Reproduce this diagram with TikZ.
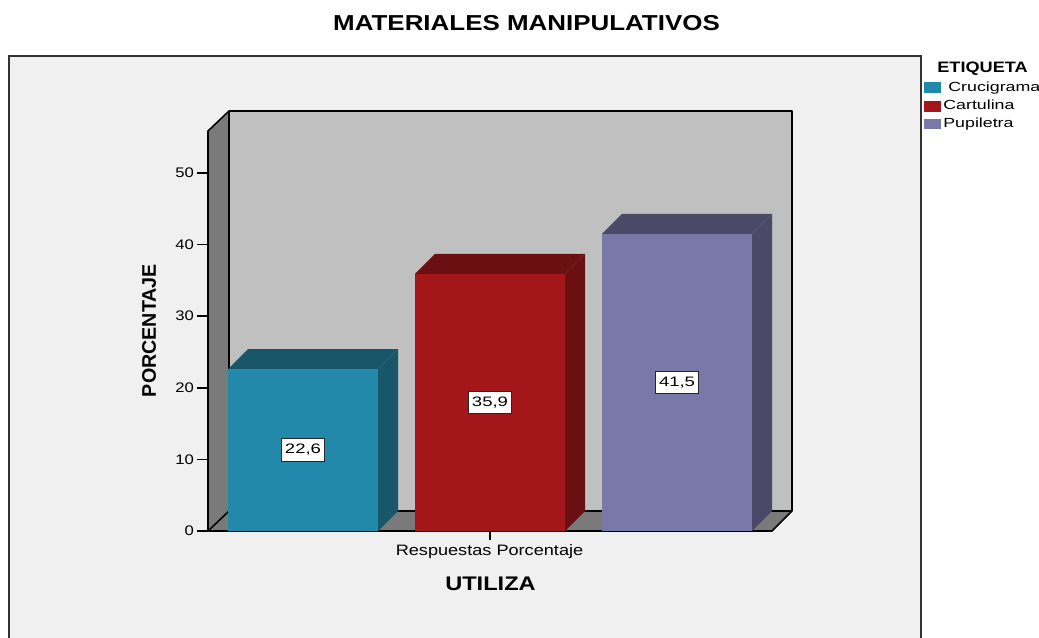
\documentclass[tikz,border=0pt]{standalone}
\usepackage{fontspec}
\setmainfont{Liberation Sans}
\newfontfamily\spssfont[FakeStretch=1.2]{Liberation Sans}
\newfontfamily\spsswide[FakeStretch=1.35]{Liberation Sans}
\definecolor{bgchart}{HTML}{F0F0F0}
\definecolor{wallback}{HTML}{C0C0C0}
\definecolor{wallside}{HTML}{7A7A7A}
\definecolor{crufront}{HTML}{2389AB}
\definecolor{cruside}{HTML}{185769}
\definecolor{carfront}{HTML}{A3161A}
\definecolor{carside}{HTML}{6A0F12}
\definecolor{pupfront}{HTML}{7879A8}
\definecolor{pupside}{HTML}{4A4A68}

\begin{document}
\begin{tikzpicture}[x=0.02cm,y=-0.02cm]
\tikzset{
	frameline/.style={draw=black!80, line width=0.8pt},
	axisline/.style={draw=black, line width=0.9pt, line join=round},
	ticklbl/.style={anchor=east, font=\spssfont\fontsize{7.9}{9}\selectfont, inner sep=1pt},
	valbox/.style={draw=black!85, fill=white, line width=0.5pt, inner xsep=2.2pt, inner ysep=3.2pt,
		font=\spsswide\fontsize{7.8}{9}\selectfont},
	bigtitle/.style={anchor=base, inner sep=0pt},
	legtext/.style={anchor=base west, font=\spsswide\fontsize{7.5}{9}\selectfont, inner sep=0pt},
	legbox/.style={minimum width=9.6pt, minimum height=6pt, inner sep=0pt}
}
\useasboundingbox (0,0) rectangle (1039,638);
\fill[white] (0,0) rectangle (1039,638);
% chart frame
\fill[bgchart] (9,56) rectangle (921,638);
\draw[frameline] (9,638) -- (9,56) -- (921,56) -- (921,638);
\node[bigtitle, font=\spssfont\bfseries\fontsize{12.3}{14}\selectfont] (TITLE) at (526.5,31) {MATERIALES MANIPULATIVOS};

% walls of the 3d box
\fill[wallback] (229,111) rectangle (792,511);
\fill[wallside] (208,531) -- (208,131) -- (229,111) -- (229,511) -- cycle;
\fill[wallside] (208,531) -- (229,511) -- (792,511) -- (772,531) -- cycle;
\draw[axisline] (208,531) -- (208,131) -- (229,111) -- (792,111) -- (792,511) -- (772,531) -- cycle;
\draw[axisline] (229,111) -- (229,511) -- (792,511);
\draw[axisline] (208,531) -- (229,511);

% ticks
\foreach \v in {0,10,...,50}{
	\draw[axisline] (197,531-7.16*\v) -- (208,531-7.16*\v);
	\node[ticklbl] (T\v) at (196,531-7.16*\v) {\v};
}
\draw[axisline] (490,531) -- (490,540);

% bars
\foreach \x/\v/\fc/\sc/\lbl in {228/22.6/crufront/cruside/{22,6}, 415/35.9/carfront/carside/{35,9}, 602/41.5/pupfront/pupside/{41,5}}{
	\fill[\sc] (\x,531-7.16*\v) -- (\x+20,511-7.16*\v) -- (\x+170,511-7.16*\v) -- (\x+150,531-7.16*\v) -- cycle;
	\fill[\sc] (\x+150,531) -- (\x+150,531-7.16*\v) -- (\x+170,511-7.16*\v) -- (\x+170,511) -- cycle;
	\fill[\fc] (\x,531) rectangle (\x+150,531-7.16*\v);
	\node[valbox] at (\x+75,531-3.58*\v) {\lbl};
}

% axis titles
\node[bigtitle, font=\spssfont\fontsize{8.6}{10}\selectfont] (XLBL) at (489.5,556) {Respuestas Porcentaje};
\node[bigtitle, font=\spssfont\bfseries\fontsize{11.2}{13}\selectfont] (XTITLE) at (490.5,591) {UTILIZA};
\node[font=\bfseries\fontsize{11.2}{13}\selectfont, inner sep=0pt, rotate=90] (YTITLE) at (149,330.5) {PORCENTAJE};

% legend
\node[font=\spssfont\bfseries\fontsize{8.6}{10}\selectfont, anchor=base west, inner sep=0pt] (LEGT) at (937,73) {ETIQUETA};
\node[legbox, fill=crufront] (L1) at (932.5,87.5) {};
\node[legtext] (L1T) at (948,92) {Crucigrama};
\node[legbox, fill=carfront] (L2) at (932.5,106.3) {};
\node[legtext] (L2T) at (943,110) {Cartulina};
\node[legbox, fill=pupfront] (L3) at (932.5,124) {};
\node[legtext] (L3T) at (943,128) {Pupiletra};
\end{tikzpicture}
\end{document}
